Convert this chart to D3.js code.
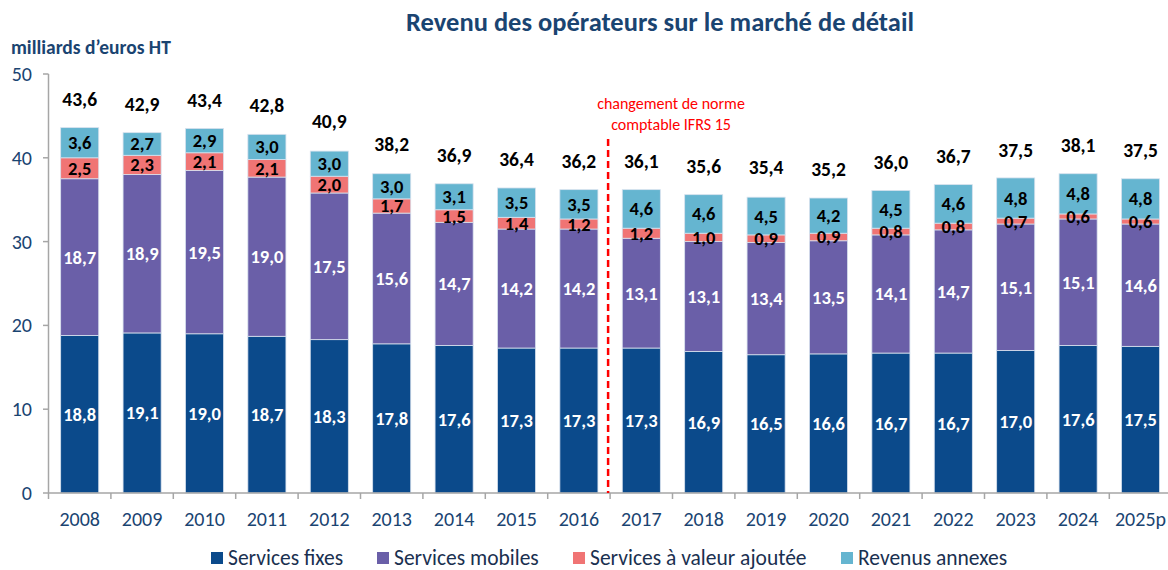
<!DOCTYPE html>
<html><head><meta charset="utf-8">
<script src="https://cdn.jsdelivr.net/npm/d3@7/dist/d3.min.js"></script>
<style>body{margin:0;background:#fff}svg{display:block;font-family:Carlito,Lato,"Open Sans",sans-serif}</style>
</head><body><svg id="c" width="1168" height="570"></svg>
<script>
const years = ["2008","2009","2010","2011","2012","2013","2014","2015","2016","2017","2018","2019","2020","2021","2022","2023","2024","2025p"];
const fixes = [18.8,19.1,19.0,18.7,18.3,17.8,17.6,17.3,17.3,17.3,16.9,16.5,16.6,16.7,16.7,17.0,17.6,17.5];
const mobiles = [18.7,18.9,19.5,19.0,17.5,15.6,14.7,14.2,14.2,13.1,13.1,13.4,13.5,14.1,14.7,15.1,15.1,14.6];
const valeurAjoutee = [2.5,2.3,2.1,2.1,2.0,1.7,1.5,1.4,1.2,1.2,1.0,0.9,0.9,0.8,0.8,0.7,0.6,0.6];
const annexes = [3.6,2.7,2.9,3.0,3.0,3.0,3.1,3.5,3.5,4.6,4.6,4.5,4.2,4.5,4.6,4.8,4.8,4.8];
const totals = [43.6,42.9,43.4,42.8,40.9,38.2,36.9,36.4,36.2,36.1,35.6,35.4,35.2,36.0,36.7,37.5,38.1,37.5];
const seriesNames = ["Services fixes","Services mobiles","Services à valeur ajoutée","Revenus annexes"];
const yTicks = [0,10,20,30,40,50];

const colors = ["#0b4a8b","#6a5fa8","#f07474","#65b5d0"];
const labelColors = ["#fff","#fff","#000","#000"];
const fmt = v => v.toFixed(1).replace(".", ",");

const svg = d3.select("#c");
const x = d3.scaleBand().domain(years).range([48.5, 48.5 + 62.4*18]).paddingInner(0.39).paddingOuter(0.195);
const y = d3.scaleLinear().domain([0,50]).range([493,74]);

const rows = years.map((yr,i)=>({year:yr, s0:fixes[i], s1:mobiles[i], s2:valeurAjoutee[i], s3:annexes[i]}));
const stack = d3.stack().keys(["s0","s1","s2","s3"])(rows);

// title
svg.append("text").attr("x",660).attr("y",31).attr("text-anchor","middle")
  .attr("font-size",26.5).attr("font-weight","bold").attr("fill","#1a4471")
  .text("Revenu des opérateurs sur le marché de détail");
svg.append("text").attr("x",11).attr("y",54).attr("font-size",19.5).attr("font-weight","bold").attr("fill","#1a4471")
  .text("milliards d’euros HT");

// bars
const barsG = svg.append("g");
const labelsG = svg.append("g");
stack.forEach((layer,k)=>{
  barsG.append("g").selectAll("rect").data(layer).enter().append("rect")
    .attr("x",d=>x(d.data.year)).attr("width",x.bandwidth())
    .attr("y",d=>y(d[1])).attr("height",d=>y(d[0])-y(d[1]))
    .attr("fill",colors[k]).attr("stroke","#d8e2ee").attr("stroke-width",0.8);
  labelsG.append("g").selectAll("text").data(layer).enter().append("text")
    .attr("x",d=>x(d.data.year)+x.bandwidth()/2)
    .attr("y",d=>(y(d[0])+y(d[1]))/2 + 6.5)
    .attr("text-anchor","middle").attr("font-size",18.5).attr("font-weight","bold")
    .attr("fill",labelColors[k])
    .text(d=>fmt(d[1]-d[0]));
});

// totals
svg.append("g").selectAll("text").data(years).enter().append("text")
  .attr("x",d=>x(d)+x.bandwidth()/2).attr("y",(d,i)=>y(totals[i])-22)
  .attr("text-anchor","middle").attr("font-size",19.5).attr("font-weight","bold").attr("fill","#000")
  .text((d,i)=>fmt(totals[i]));

// axes
const axisColor = "#a6a6a6";
svg.append("line").attr("x1",48.5).attr("x2",48.5).attr("y1",y(50)).attr("y2",y(0)).attr("stroke",axisColor).attr("stroke-width",1.5);
svg.append("line").attr("x1",48.5).attr("x2",1168).attr("y1",y(0)).attr("y2",y(0)).attr("stroke",axisColor).attr("stroke-width",1.5);
const yAx = svg.append("g");
yAx.selectAll("line").data(yTicks).enter().append("line")
  .attr("x1",43).attr("x2",48.5).attr("y1",d=>y(d)).attr("y2",d=>y(d)).attr("stroke",axisColor).attr("stroke-width",1.5);
yAx.selectAll("text").data(yTicks).enter().append("text")
  .attr("x",32).attr("y",d=>y(d)+7).attr("text-anchor","end").attr("font-size",20).attr("fill","#1a4471").text(d=>d);
const step = x.step();
const boundaries = d3.range(years.length+1).map(i=>48.5+i*step);
svg.append("g").selectAll("line").data(boundaries).enter().append("line")
  .attr("x1",d=>d).attr("x2",d=>d).attr("y1",y(0)).attr("y2",y(0)+6).attr("stroke",axisColor).attr("stroke-width",1.5);
svg.append("g").selectAll("text").data(years).enter().append("text")
  .attr("x",d=>x(d)+x.bandwidth()/2).attr("y",526).attr("text-anchor","middle")
  .attr("font-size",20).attr("fill","#1a4471").text(d=>d);

// IFRS 15 separator
const sepX = 48.5 + 9*step - 2;
svg.append("line").attr("x1",sepX).attr("x2",sepX).attr("y1",139).attr("y2",y(0))
  .attr("stroke","#ff0000").attr("stroke-width",2.5).attr("stroke-dasharray","7,4");
svg.append("text").attr("x",671).attr("y",109).attr("text-anchor","middle").attr("font-size",16).attr("fill","#ff0000").text("changement de norme");
svg.append("text").attr("x",671).attr("y",130).attr("text-anchor","middle").attr("font-size",16).attr("fill","#ff0000").text("comptable IFRS 15");

// legend
const legX = [211,377,573,841];
const leg = svg.append("g");
seriesNames.forEach((n,k)=>{
  leg.append("rect").attr("x",legX[k]).attr("y",552).attr("width",12).attr("height",12).attr("fill",colors[k]);
  leg.append("text").attr("x",legX[k]+17).attr("y",565).attr("font-size",21.5).attr("fill","#1a3050").text(n);
});
</script></body></html>
